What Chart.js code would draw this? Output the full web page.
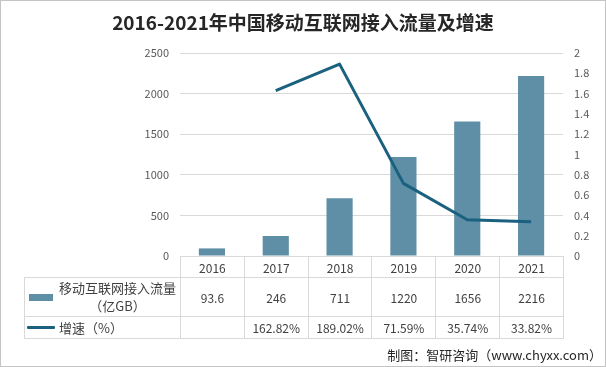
<!DOCTYPE html>
<html><head><meta charset="utf-8">
<script src="https://cdn.jsdelivr.net/npm/chart.js@4/dist/chart.umd.min.js"></script>
<style>
html,body{margin:0;padding:0;background:#fff;}
#wrap{position:relative;width:606px;height:367px;overflow:hidden;font-family:"Noto Sans CJK SC","Noto Sans",sans-serif;background:#fff;}
#frame{position:absolute;left:0;top:0;width:606px;height:367px;box-sizing:border-box;border:1px solid #c4c4c4;pointer-events:none;}
#title{position:absolute;left:0;top:8px;width:606px;text-align:center;font-size:19px;font-weight:bold;color:#262626;line-height:28px;}
#cbox{position:absolute;left:0;top:0;width:606px;height:367px;}
#tbl{position:absolute;left:24px;top:256px;border-collapse:collapse;table-layout:fixed;font-size:12px;color:#404040;}
#tbl td{border:1px solid #d9d9d9;text-align:center;padding:0;white-space:nowrap;}
#tbl td.blank{border:none;border-bottom:1px solid #d9d9d9;}
.lg{display:flex;align-items:center;font-size:13px;color:#404040;padding-left:4px;}
.sw{width:24px;height:7px;background:#5e8fa6;margin-right:6px;flex:none;}
.ln{width:28px;height:3px;background:#1a6180;margin-right:4px;margin-left:-2px;flex:none;border-radius:1px;}
.lt{text-align:center;line-height:18px;}
#footer{position:absolute;right:4px;top:346px;font-size:13px;line-height:18px;color:#262626;}
</style></head>
<body>
<div id="wrap">
  <div id="cbox"><canvas id="cv"></canvas></div>
  <div id="title">2016-2021年中国移动互联网接入流量及增速</div>
  <table id="tbl"></table>
  <div id="footer">制图：智研咨询（www.chyxx.com）</div>
  <div id="frame"></div>
</div>
<script>
const years = ['2016','2017','2018','2019','2020','2021'];
const traffic = [93.6, 246, 711, 1220, 1656, 2216];
const trafficLabels = ['93.6','246','711','1220','1656','2216'];
const growth = [null, 1.6282, 1.8902, 0.7159, 0.3574, 0.3382];
const growthLabels = ['', '162.82%', '189.02%', '71.59%', '35.74%', '33.82%'];
const barName = '移动互联网接入流量';
const barUnit = '（亿GB）';
const lineName = '增速（%）';
const leftTicks = [0, 500, 1000, 1500, 2000, 2500];
const rightTicks = [0, 0.2, 0.4, 0.6, 0.8, 1, 1.2, 1.4, 1.6, 1.8, 2];

const tickFont = {size:11, family:'"Noto Sans CJK SC","Noto Sans",sans-serif'};
const chart = new Chart(document.getElementById('cv'), {
  data: {
    labels: years,
    datasets: [
      {type:'line', label:lineName, data:growth, yAxisID:'y1', borderColor:'#1a6180', borderWidth:3,
       pointRadius:0, tension:0, order:0, borderCapStyle:'butt', borderJoinStyle:'round'},
      {type:'bar', label:barName + barUnit, data:traffic, yAxisID:'y', backgroundColor:'#5e8fa6',
       barPercentage:0.41, categoryPercentage:1, order:1}
    ]
  },
  options: {
    responsive:true, maintainAspectRatio:false, animation:false,
    layout:{padding:{top:53, bottom:111, left:0, right:0}},
    plugins:{legend:{display:false}, tooltip:{enabled:false}},
    scales:{
      x:{display:false, offset:true},
      y:{position:'left', min:leftTicks[0], max:leftTicks[leftTicks.length-1],
         afterBuildTicks(s){ s.ticks = leftTicks.map(v=>({value:v})); },
         ticks:{color:'#595959', font:tickFont, padding:11, callback:v => String(v)},
         grid:{color:'#d9d9d9', drawTicks:false}, border:{display:false},
         afterFit(s){ s.width = 180; }},
      y1:{position:'right', min:rightTicks[0], max:rightTicks[rightTicks.length-1],
         afterBuildTicks(s){ s.ticks = rightTicks.map(v=>({value:v})); },
         ticks:{color:'#595959', font:tickFont, padding:11,
                callback:v => String(+v.toFixed(1))},
         grid:{display:false, drawTicks:false}, border:{display:false},
         afterFit(s){ s.width = 43; }}
    }
  }
});

// build data table aligned to the chart's category columns
const ca = chart.chartArea;
const firstW = Math.round(ca.left) - 24;
const colW = (ca.right - ca.left) / years.length;
let html = '<colgroup><col style="width:' + firstW + 'px">';
years.forEach(()=>{ html += '<col style="width:' + colW + 'px">'; });
html += '</colgroup>';
html += '<tr style="height:21px"><td class="blank"></td>' + years.map(y=>'<td>'+y+'</td>').join('') + '</tr>';
html += '<tr style="height:39px"><td><div class="lg"><span class="sw"></span><div class="lt">' + barName + '<br>' + barUnit + '</div></div></td>' +
        trafficLabels.map(v=>'<td>'+v+'</td>').join('') + '</tr>';
html += '<tr style="height:22px"><td><div class="lg"><span class="ln"></span><div class="lt">' + lineName + '</div></div></td>' +
        growthLabels.map(v=>'<td>'+v+'</td>').join('') + '</tr>';
const tbl = document.getElementById('tbl');
tbl.innerHTML = html;
tbl.style.width = (firstW + colW * years.length) + 'px';
</script>
</body></html>
